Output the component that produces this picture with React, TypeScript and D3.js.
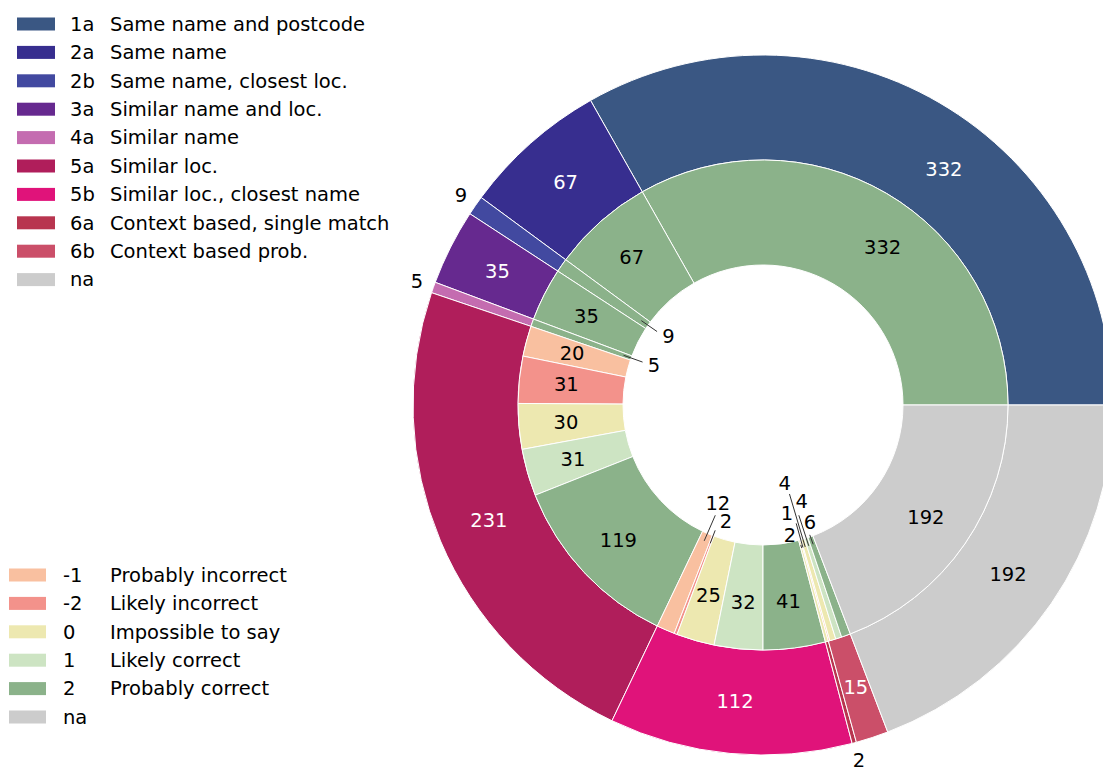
import React from "react";
import * as d3 from "d3";

const categories = ["1a", "2a", "2b", "3a", "4a", "5a", "5b", "6a", "6b", "na"];
const categoryNames = [
  "Same name and postcode",
  "Same name",
  "Same name, closest loc.",
  "Similar name and loc.",
  "Similar name",
  "Similar loc.",
  "Similar loc., closest name",
  "Context based, single match",
  "Context based prob.",
  "",
];
const categoryValues = [332, 67, 9, 35, 5, 231, 112, 2, 15, 192];
const categoryColors = [
  "#3a5783", "#372e8f", "#4249a0", "#66298f", "#c46cb0",
  "#b01e5b", "#e0137a", "#b8354f", "#cb4f69", "#cccccc",
];

const scores = ["-1", "-2", "0", "1", "2", "na"];
const scoreNames = ["Probably incorrect", "Likely incorrect", "Impossible to say", "Likely correct", "Probably correct", ""];
const scoreColors = ["#f9c0a0", "#f3928b", "#ede8b0", "#cde4c3", "#8bb28a", "#cccccc"];

// inner breakdown: value of each score within each category (same order as categories)
const scoreMinus1 = [0, 0, 0, 0, 0, 20, 12, 0, 1, 0];
const scoreMinus2 = [0, 0, 0, 0, 0, 31, 2, 0, 0, 0];
const scoreZero = [0, 0, 0, 0, 0, 30, 25, 2, 4, 0];
const scoreOne = [0, 0, 0, 0, 0, 31, 32, 0, 4, 0];
const scoreTwo = [332, 67, 9, 35, 5, 119, 41, 0, 6, 0];
const scoreNa = [0, 0, 0, 0, 0, 0, 0, 0, 0, 192];

// label nudges for the tiny inner slices (angle offset in degrees, radius as fraction of outer radius)
const smallInnerLabels: Record<string, { dA: number; r: number }> = {
  "2b|2": { dA: -1.3, r: 0.334 },
  "4a|2": { dA: -0.3, r: 0.331 },
  "5b|-1": { dA: -1.3, r: 0.309 },
  "5b|-2": { dA: 3.2, r: 0.349 },
  "6a|0": { dA: -3.4, r: 0.38 },
  "6b|-1": { dA: -3.2, r: 0.317 },
  "6b|0": { dA: -0.9, r: 0.231 },
  "6b|1": { dA: 3.9, r: 0.297 },
  "6b|2": { dA: 2.1, r: 0.36 },
};
// angle nudge (degrees) for the labels of the first category, as drawn in the reference
const labelAngleNudge: Record<string, number> = { "1a": -7.2, "1a|2": -7.0 };

const W = 1103;
const H = 767;
const CX = 763;
const CY = 405;
const R = 350;
const FONT = "'DejaVu Sans', sans-serif";
const FS = 19.5;

export default function App() {
  const total = d3.sum(categoryValues);
  const angle = d3.scaleLinear().domain([0, total]).range([0, 2 * Math.PI]);
  const scoreTable = [scoreMinus1, scoreMinus2, scoreZero, scoreOne, scoreTwo, scoreNa];
  const rad = (deg: number) => (deg * Math.PI) / 180;

  const polar = (theta: number, r: number): [number, number] => [
    CX + r * Math.cos(theta),
    CY - r * Math.sin(theta),
  ];

  // outer slices
  let cum = 0;
  const outer = categories.map((c, i) => {
    const v = categoryValues[i];
    const s = { key: c, v, a0: angle(cum), a1: angle(cum + v), color: categoryColors[i], i };
    cum += v;
    return s;
  });

  // inner slices
  cum = 0;
  const inner: { key: string; v: number; a0: number; a1: number; color: string }[] = [];
  categories.forEach((c, ci) => {
    scores.forEach((s, si) => {
      const v = scoreTable[si][ci];
      if (v > 0) {
        inner.push({ key: `${c}|${s}`, v, a0: angle(cum), a1: angle(cum + v), color: scoreColors[si] });
        cum += v;
      }
    });
  });

  const outerArc = d3.arc<any>().innerRadius(R * 0.7).outerRadius(R);
  const innerArc = d3.arc<any>().innerRadius(R * 0.4).outerRadius(R * 0.7);

  const toD3 = (s: { a0: number; a1: number }) => ({
    startAngle: Math.PI / 2 - s.a1,
    endAngle: Math.PI / 2 - s.a0,
  });

  const legend1Y = 24;
  const legend2Y = 575;
  const rowH = 28.4;

  return (
    <svg
      width={W}
      height={H}
      style={{ position: "absolute", left: 0, top: 0, background: "#fff" }}
      fontFamily={FONT}
    >
      <g transform={`translate(${CX},${CY})`}>
        {outer.map((s) => (
          <path key={s.key} d={outerArc(toD3(s)) as string} fill={s.color} stroke="#fff" strokeWidth={1} />
        ))}
        {inner.map((s) => (
          <path key={s.key} d={innerArc(toD3(s)) as string} fill={s.color} stroke="#fff" strokeWidth={1} />
        ))}
      </g>

      {/* outer labels */}
      {outer.map((s) => {
        const mid = (s.a0 + s.a1) / 2 + rad(labelAngleNudge[s.key] || 0);
        const small = s.v < 10;
        const [x, y] = polar(mid, small ? R * 1.05 : R * 0.85);
        return (
          <text
            key={"ol" + s.key}
            x={x}
            y={y}
            dy="0.35em"
            textAnchor="middle"
            fontSize={FS}
            fill={small || s.key === "na" ? "#000" : "#fff"}
          >
            {s.v}
          </text>
        );
      })}

      {/* inner labels */}
      {inner.map((s) => {
        const mid = (s.a0 + s.a1) / 2;
        const nudge = smallInnerLabels[s.key];
        if (nudge) {
          const la = mid + rad(nudge.dA);
          const [x, y] = polar(la, nudge.r * R);
          const [x1, y1] = polar(mid, R * 0.423);
          const [x2, y2] = polar(mid, nudge.r * R + 12);
          return (
            <g key={"il" + s.key}>
              <line x1={x1} y1={y1} x2={x2} y2={y2} stroke="#333" strokeWidth={1} />
              <text x={x} y={y} dy="0.35em" textAnchor="middle" fontSize={FS} fill="#000">
                {s.v}
              </text>
            </g>
          );
        }
        const [x, y] = polar(mid + rad(labelAngleNudge[s.key] || 0), R * 0.565);
        return (
          <text key={"il" + s.key} x={x} y={y} dy="0.35em" textAnchor="middle" fontSize={FS} fill="#000">
            {s.v}
          </text>
        );
      })}

      {/* legend 1 */}
      {categories.map((c, i) => {
        const y = legend1Y + i * rowH;
        return (
          <g key={"lg1" + c}>
            <rect x={17} y={y - 6.5} width={38} height={13} fill={categoryColors[i]} />
            <text x={70} y={y} dy="0.35em" fontSize={FS} fill="#000">
              {c}
            </text>
            <text x={110} y={y} dy="0.35em" fontSize={FS} fill="#000">
              {categoryNames[i]}
            </text>
          </g>
        );
      })}

      {/* legend 2 */}
      {scores.map((s, i) => {
        const y = legend2Y + i * rowH;
        return (
          <g key={"lg2" + s}>
            <rect x={9} y={y - 6.5} width={37} height={13} fill={scoreColors[i]} />
            <text x={63} y={y} dy="0.35em" fontSize={FS} fill="#000">
              {s}
            </text>
            <text x={110} y={y} dy="0.35em" fontSize={FS} fill="#000">
              {scoreNames[i]}
            </text>
          </g>
        );
      })}
    </svg>
  );
}
